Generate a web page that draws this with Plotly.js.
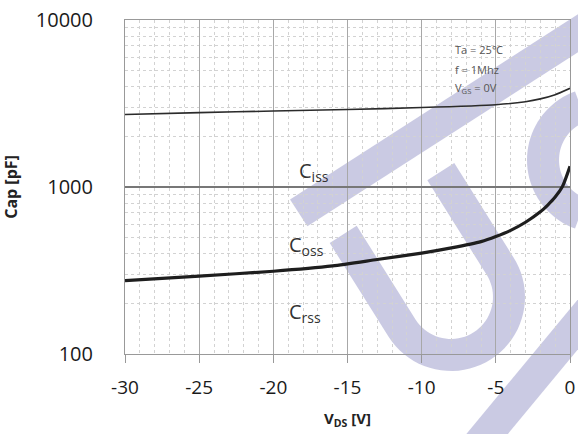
<!DOCTYPE html>
<html>
<head>
<meta charset="utf-8">
<script src="https://cdn.plot.ly/plotly-3.0.1.min.js"></script>
<style>
  html, body { margin: 0; padding: 0; background: #fff; }
  #chart { width: 578px; height: 434px; }
</style>
</head>
<body>
<div id="chart"></div>
<script>
// Drain-source voltage points and capacitances (pF)
const vdsIss = [-30, -25, -20, -15, -10, -5, -3, -2, -1, 0];
const ciss   = [2720, 2790, 2850, 2910, 2990, 3110, 3240, 3370, 3570, 3900];

const vdsOss = [-30, -25, -20, -16, -13, -10, -8, -6, -5, -4, -3, -2, -1.5, -1, -0.5, 0];
const coss   = [275, 293, 313, 337, 368, 402, 432, 471, 505, 550, 615, 710, 780, 870, 1010, 1330];

const xTickVals = [-30, -25, -20, -15, -10, -5, 0];
const yTickVals = [100, 1000, 10000];
const yTickText = ['100', '1000', '10000'];

const curveLabels = ['C<sub>iss</sub>', 'C<sub>oss</sub>', 'C<sub>rss</sub>'];
const conditions  = ['Ta = 25\u2103', 'f = 1Mhz', 'V<sub>GS</sub> = 0V'];

const W = 578, H = 434;
const M = { l: 125, r: 8, t: 20, b: 80 };
const PW = W - M.l - M.r, PH = H - M.t - M.b;

// pixel -> paper helpers for the background logo
const px2paper = (p) => [(p[0] - M.l) / PW, (H - M.b - p[1]) / PH];
function pathFrom(points) {
  return points.map((p, i) => {
    const q = px2paper(p);
    return (i ? 'L' : 'M') + q[0].toFixed(4) + ',' + q[1].toFixed(4);
  }).join(' ') + ' Z';
}
const add = (a, b, k) => [a[0] + k * b[0], a[1] + k * b[1]];

const u = [0.841, -0.541];   // along the long stroke
const d = [0.541, 0.841];    // across it

// long diagonal stroke
function band(P, dir, perp, t0, t1, hw) {
  const a = add(P, dir, t0), b = add(P, dir, t1);
  return [add(a, perp, -hw), add(b, perp, -hw), add(b, perp, hw), add(a, perp, hw)];
}
const strokeA = band([440, 122], u, d, -168, 280, 16);

// "U" glyph
function uGlyph(Mid, C, rOut, rIn) {
  const pts = [];
  pts.push(add(Mid, u, -rOut));
  pts.push(add(C, u, -rOut));
  for (let i = 1; i < 40; i++) {
    const f = Math.PI * i / 40;
    pts.push([C[0] + rOut * (-Math.cos(f) * u[0] + Math.sin(f) * d[0]),
              C[1] + rOut * (-Math.cos(f) * u[1] + Math.sin(f) * d[1])]);
  }
  pts.push(add(C, u, rOut));
  pts.push(add(Mid, u, rOut));
  pts.push(add(Mid, u, rIn));
  pts.push(add(C, u, rIn));
  for (let i = 39; i > 0; i--) {
    const f = Math.PI * i / 40;
    pts.push([C[0] + rIn * (-Math.cos(f) * u[0] + Math.sin(f) * d[0]),
              C[1] + rIn * (-Math.cos(f) * u[1] + Math.sin(f) * d[1])]);
  }
  pts.push(add(C, u, -rIn));
  pts.push(add(Mid, u, -rIn));
  return pts;
}
const glyphU = uGlyph([392, 203], [451, 297], 74, 42);

// "S" upper bowl
function arcRing(C, rOut, rIn, a0, a1) {
  const pts = [], n = 40;
  for (let i = 0; i <= n; i++) {
    const a = (a0 + (a1 - a0) * i / n) * Math.PI / 180;
    pts.push([C[0] + rOut * Math.cos(a), C[1] + rOut * Math.sin(a)]);
  }
  for (let i = n; i >= 0; i--) {
    const a = (a0 + (a1 - a0) * i / n) * Math.PI / 180;
    pts.push([C[0] + rIn * Math.cos(a), C[1] + rIn * Math.sin(a)]);
  }
  return pts;
}
const sBowl = arcRing([600, 160], 73, 41, 110, 250);
const sDir = [-0.638, 0.770], sPerp = [0.770, 0.638];
const sTail = band([594, 305], sDir, sPerp, -60, 210, 16);

const logoFill = 'rgba(150,150,200,0.5)';
const logoShapes = [strokeA, glyphU, sBowl, sTail].map(pts => ({
  type: 'path', xref: 'paper', yref: 'paper', layer: 'below',
  path: pathFrom(pts), fillcolor: logoFill, line: { width: 0 }
}));

const FONT = 'Open Sans, Liberation Sans, sans-serif';

const traces = [
  { x: vdsIss, y: ciss, type: 'scatter', mode: 'lines', name: 'Ciss',
    line: { color: '#2b2b2b', width: 1.6, shape: 'spline', smoothing: 0.6 },
    hoverinfo: 'skip' },
  { x: vdsOss, y: coss, type: 'scatter', mode: 'lines', name: 'Coss',
    line: { color: '#1e1e1e', width: 3.2, shape: 'spline', smoothing: 0.6 },
    hoverinfo: 'skip' }
];

const labelPos = [
  { x: -18.4, y: 3.095 },
  { x: -19.1, y: 2.649 },
  { x: -19.1, y: 2.25 }
];
const annotations = curveLabels.map((t, i) => ({
  text: t, x: labelPos[i].x, y: labelPos[i].y, xref: 'x', yref: 'y',
  xanchor: 'left', yanchor: 'middle', showarrow: false,
  font: { family: FONT, size: 20, color: '#333' }
}));
const condY = [0.913, 0.851, 0.795];
conditions.forEach((t, i) => annotations.push({
  text: t, x: 0.737, y: condY[i], xref: 'paper', yref: 'paper',
  xanchor: 'left', yanchor: 'middle', showarrow: false,
  font: { family: FONT, size: 11, color: '#555' }
}));

const layout = {
  width: W, height: H,
  margin: M,
  paper_bgcolor: '#fff', plot_bgcolor: 'rgba(0,0,0,0)',
  showlegend: false,
  font: { family: FONT, color: '#222' },
  xaxis: {
    range: [-30, 0], tickvals: xTickVals, ticktext: xTickVals.map(String),
    ticks: 'outside', ticklen: 8, tickcolor: '#999', tickwidth: 1,
    ticklabelstandoff: 8,
    tickfont: { family: FONT, size: 19, color: '#1a1a1a' },
    showgrid: true, gridcolor: '#a8a8a8', gridwidth: 1,
    minor: { dtick: 1, showgrid: true, gridcolor: '#d2d2d2', gridwidth: 1, griddash: '3px,3px' },
    showline: true, linecolor: '#999', linewidth: 1, mirror: true,
    zeroline: false,
    title: { text: '<b>V<sub>DS</sub> [V]</b>', font: { family: FONT, size: 15, color: '#222' }, standoff: 14 }
  },
  yaxis: {
    type: 'log', range: [2, 4], tickvals: yTickVals, ticktext: yTickText,
    ticks: '', ticklabelstandoff: 27,
    tickfont: { family: FONT, size: 20, color: '#1a1a1a' },
    showgrid: true, gridcolor: '#777', gridwidth: 1.5,
    minor: { dtick: 'D1', showgrid: true, gridcolor: '#d2d2d2', gridwidth: 1, griddash: '3px,3px' },
    showline: true, linecolor: '#999', linewidth: 1, mirror: true,
    zeroline: false,
    title: { text: '<b>Cap [pF]</b>', font: { family: FONT, size: 16, color: '#222' }, standoff: 14 }
  },
  shapes: logoShapes,
  annotations: annotations
};

Plotly.newPlot('chart', traces, layout, { staticPlot: true, displayModeBar: false });
</script>
</body>
</html>
